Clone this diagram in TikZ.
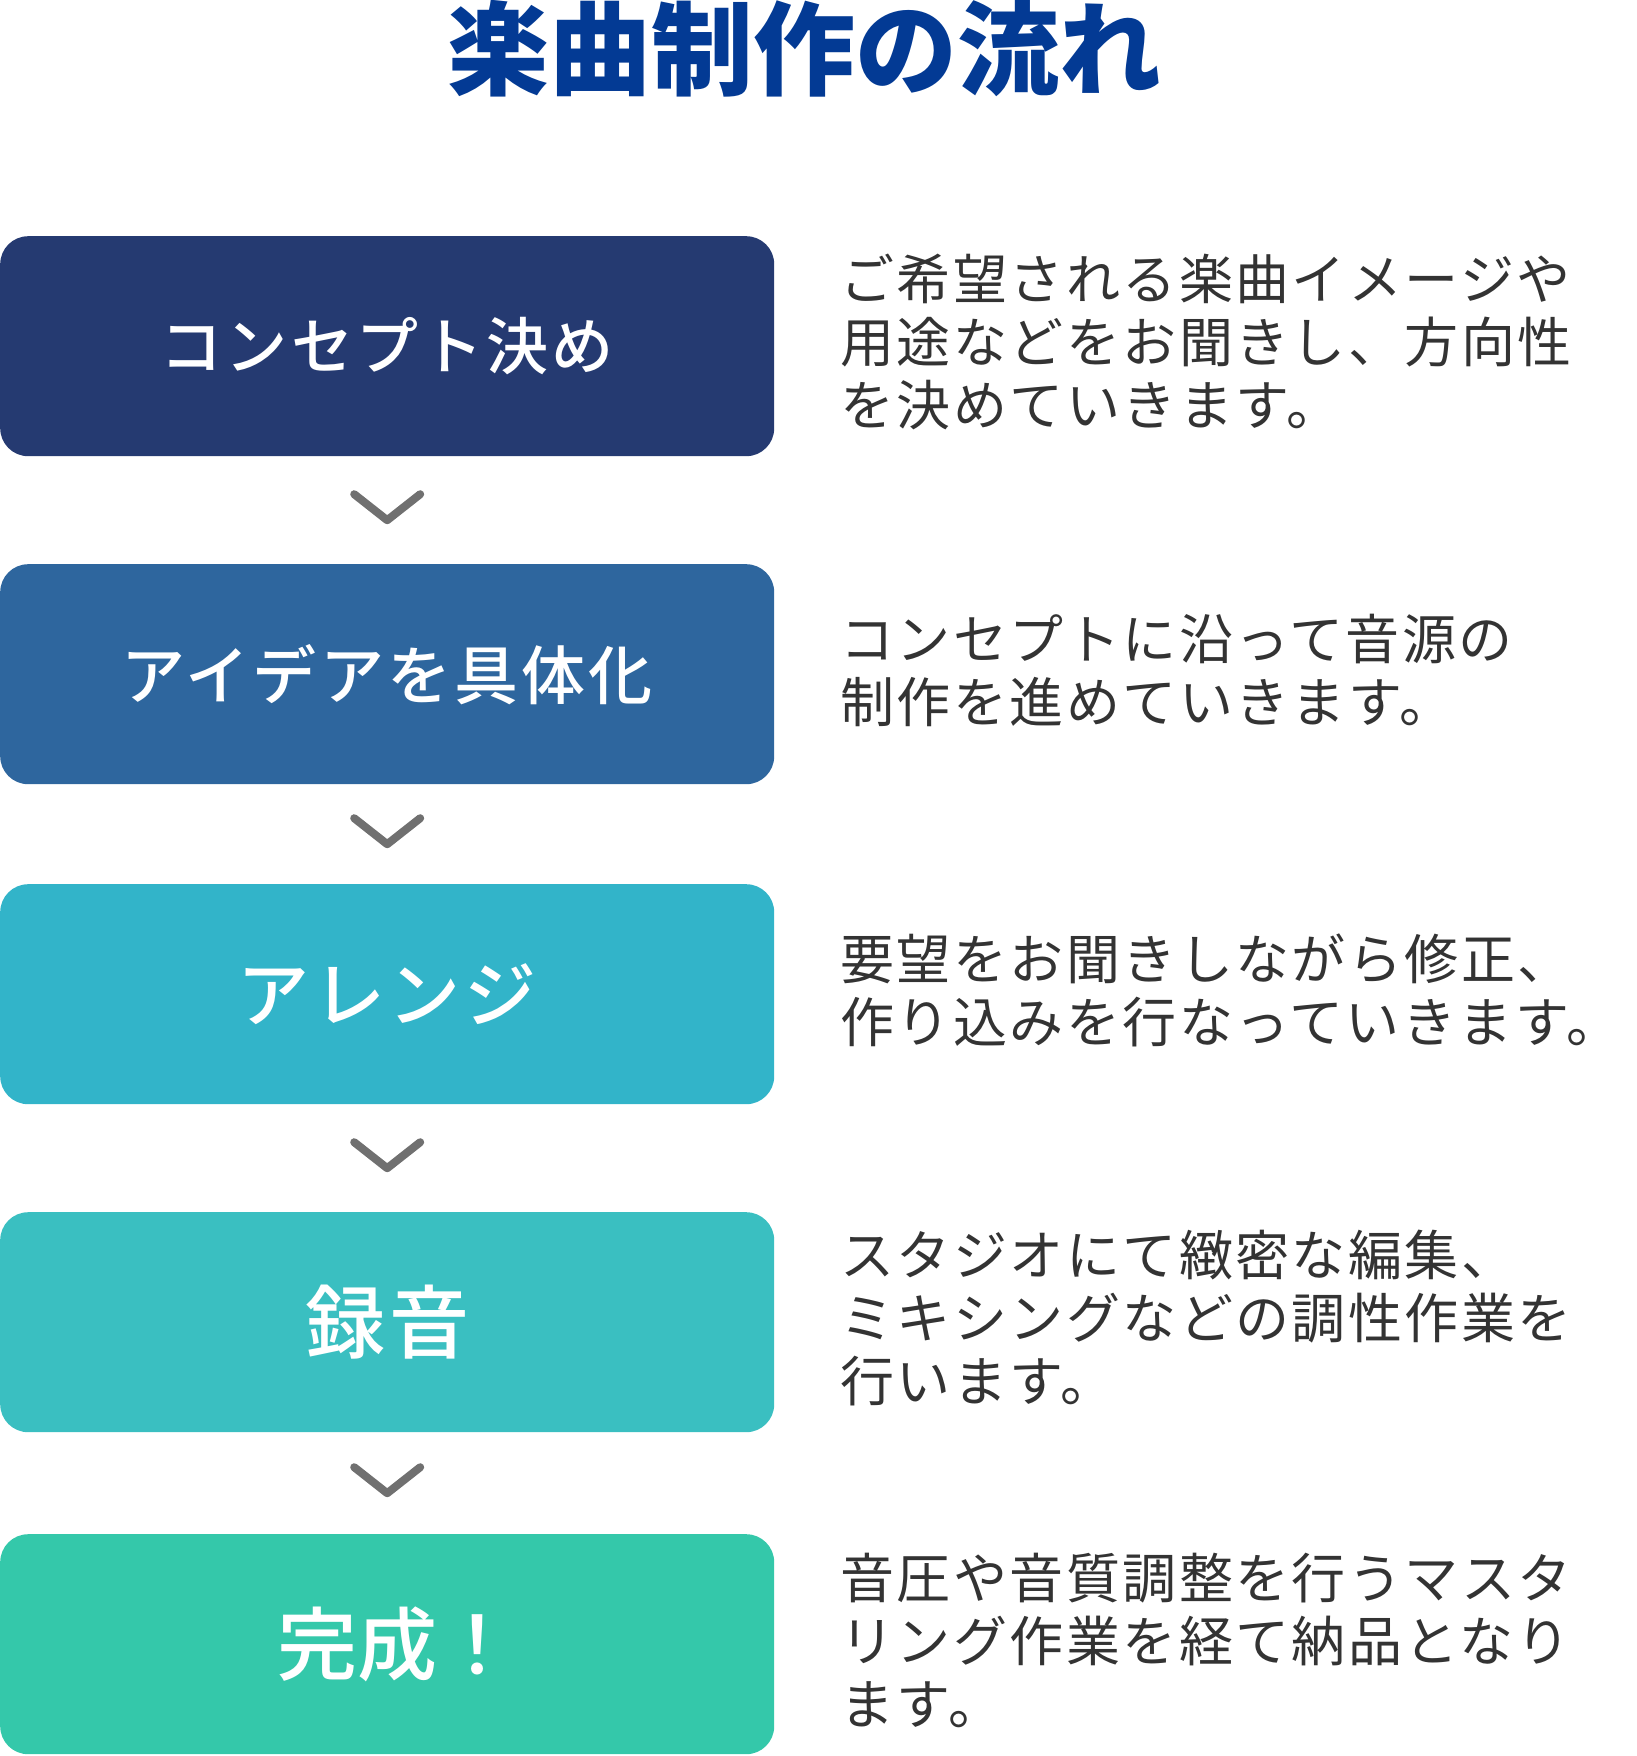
\documentclass[tikz,border=0pt]{standalone}
\usepackage{fontspec}
\newfontfamily\jpfont{Noto Sans CJK JP}
\newfontfamily\boxfont[LetterSpace=5,UprightFont=* Medium]{Noto Sans CJK JP}
\newfontfamily\notefont[LetterSpace=4.5]{Noto Sans CJK JP}
\usetikzlibrary{calc}

\definecolor{titleblue}{HTML}{033A94}
\definecolor{stepA}{HTML}{253A71}
\definecolor{stepB}{HTML}{2E669E}
\definecolor{stepC}{HTML}{32B4C9}
\definecolor{stepD}{HTML}{3ABFC1}
\definecolor{stepE}{HTML}{34C8AA}
\definecolor{notegray}{HTML}{333333}
\definecolor{chevgray}{HTML}{707070}

\tikzset{
  stepbox/.style={rounded corners=28pt,minimum width=774pt,minimum height=220pt,
    anchor=north west,inner sep=0pt,text=white},
  note/.style={anchor=west,align=left,inner sep=0pt,text=notegray,
    font=\notefont\fontsize{54}{63}\selectfont},
  chevron/.style={draw=chevgray,line width=8pt,line cap=round,line join=round}
}

\begin{document}
\begin{tikzpicture}[x=1pt,y=-1pt]
   \useasboundingbox (0,0) rectangle (1636,1756);
   % title
   \node [anchor=west,inner sep=0pt,text=titleblue,
          font=\jpfont\bfseries\fontsize{102}{102}\selectfont] (title) at (447,49) {楽曲制作の流れ};
   % the five steps
   \foreach \n/\top/\col/\sz/\lbl in {1/236/stepA/62/コンセプト決め,2/564/stepB/64/アイデアを具体化,
       3/884/stepC/72/アレンジ,4/1212/stepD/80/録音,
       5/1534/stepE/80/{\addfontfeature{LetterSpace=0}\kern21pt 完成！}}
       \node [stepbox,fill=\col,font=\boxfont\fontsize{\sz}{\sz}\selectfont] (step\n) at (0,\top) {\lbl};
   % what happens at each step
   \foreach \n/\txt in {1/{ご希望される楽曲イメージや\\用途などをお聞きし、方向性\\を決めていきます。},
       2/{コンセプトに沿って音源の\\制作を進めていきます。},
       3/{要望をお聞きしながら修正、\\作り込みを行なっていきます。},
       4/{スタジオにて緻密な編集、\\ミキシングなどの調性作業を\\行います。},
       5/{音圧や音質調整を行うマスタ\\リング作業を経て納品となり\\ます。}}
       \node [note] (note\n) at ([xshift=66pt,yshift=4pt]step\n.east) {\txt};
   % chevrons between the steps
   \foreach \a/\b in {1/2,2/3,3/4,4/5}
       \draw [chevron] ($(step\a.south)!0.5!(step\b.north)$) ++(-33,-16) -- ++(33,26) -- ++(33,-26);
\end{tikzpicture}
\end{document}
